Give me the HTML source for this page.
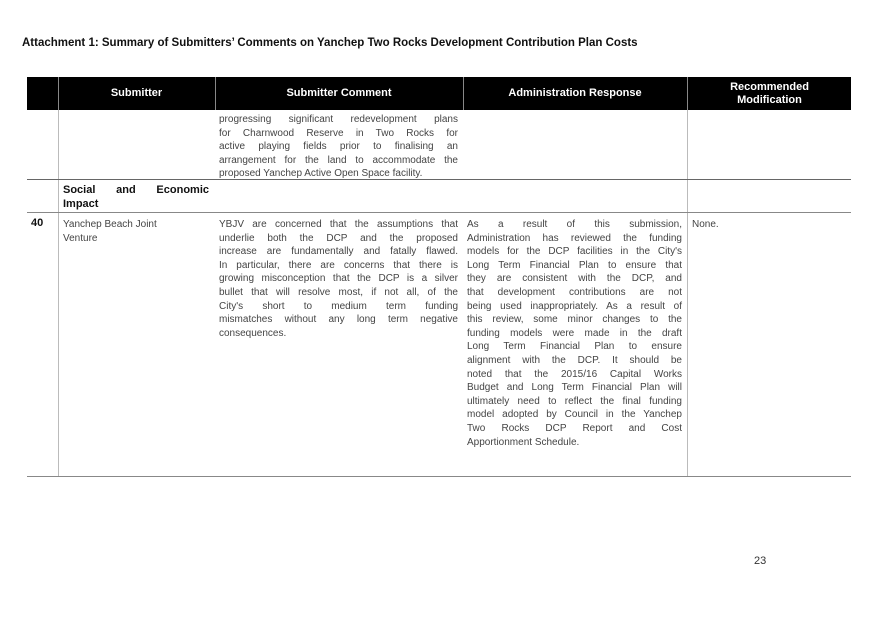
<!DOCTYPE html>
<html><head><meta charset="utf-8"><style>
*{margin:0;padding:0;box-sizing:border-box}
body{width:875px;height:619px;background:#fff;position:relative;font-family:"Liberation Sans",Arial,sans-serif;color:#222;overflow:hidden}
.a{position:absolute}
.t{position:absolute;font-size:10px;line-height:13.6px;color:#444}
.j div{text-align:justify;text-align-last:justify;white-space:nowrap;height:13.6px}
.j div.l{text-align-last:left}
.h{position:absolute;top:77px;height:33px;background:#000;color:#fff;font-weight:bold;font-size:11px;display:flex;align-items:center;justify-content:center;text-align:center;line-height:13px}
</style></head><body>
<div class="a" style="left:22px;top:37px;font-size:11.5px;font-weight:bold;color:#111;white-space:nowrap">Attachment 1: Summary of Submitters’ Comments on Yanchep Two Rocks Development Contribution Plan Costs</div>

<div class="a" style="left:27px;top:77px;width:824px;height:33px;background:#000"></div>
<div class="h" style="left:59px;width:155px">Submitter</div>
<div class="h" style="left:216px;width:246px">Submitter Comment</div>
<div class="h" style="left:464px;width:222px">Administration Response</div>
<div class="h" style="left:688px;width:163px">Recommended<br>Modification</div>
<div class="a" style="left:58px;top:77px;width:1px;height:33px;background:#888"></div>
<div class="a" style="left:215px;top:77px;width:1px;height:33px;background:#888"></div>
<div class="a" style="left:463px;top:77px;width:1px;height:33px;background:#888"></div>
<div class="a" style="left:687px;top:77px;width:1px;height:33px;background:#888"></div>

<div class="a" style="left:58px;top:110px;width:1px;height:366px;background:#bbb"></div>
<div class="a" style="left:687px;top:110px;width:1px;height:366px;background:#bbb"></div>
<div class="a" style="left:27px;top:179px;width:824px;height:1px;background:#666"></div>
<div class="a" style="left:27px;top:212px;width:824px;height:1px;background:#888"></div>
<div class="a" style="left:27px;top:476px;width:824px;height:1px;background:#888"></div>

<div class="t j" style="left:219px;top:113px;width:239px">
<div>progressing significant redevelopment plans</div>
<div>for Charnwood Reserve in Two Rocks for</div>
<div>active playing fields prior to finalising an</div>
<div>arrangement for the land to accommodate the</div>
<div class="l">proposed Yanchep Active Open Space facility.</div>
</div>

<div class="t j" style="left:63px;top:184px;width:146px;font-weight:bold;font-size:11px;color:#111">
<div>Social and Economic</div>
<div class="l">Impact</div>
</div>

<div class="a" style="left:31px;top:217px;font-size:11px;font-weight:bold;color:#111">40</div>
<div class="t" style="left:63px;top:218px;width:150px">Yanchep Beach Joint<br>Venture</div>

<div class="t j" style="left:219px;top:218px;width:239px">
<div>YBJV are concerned that the assumptions that</div>
<div>underlie both the DCP and the proposed</div>
<div>increase are fundamentally and fatally flawed.</div>
<div>In particular, there are concerns that there is</div>
<div>growing misconception that the DCP is a silver</div>
<div>bullet that will resolve most, if not all, of the</div>
<div>City's short to medium term funding</div>
<div>mismatches without any long term negative</div>
<div class="l">consequences.</div>
</div>

<div class="t j" style="left:467px;top:218px;width:215px">
<div>As a result of this submission,</div>
<div>Administration has reviewed the funding</div>
<div>models for the DCP facilities in the City's</div>
<div>Long Term Financial Plan to ensure that</div>
<div>they are consistent with the DCP, and</div>
<div>that development contributions are not</div>
<div>being used inappropriately. As a result of</div>
<div>this review, some minor changes to the</div>
<div>funding models were made in the draft</div>
<div>Long Term Financial Plan to ensure</div>
<div>alignment with the DCP. It should be</div>
<div>noted that the 2015/16 Capital Works</div>
<div>Budget and Long Term Financial Plan will</div>
<div>ultimately need to reflect the final funding</div>
<div>model adopted by Council in the Yanchep</div>
<div>Two Rocks DCP Report and Cost</div>
<div class="l">Apportionment Schedule.</div>
</div>

<div class="t" style="left:692px;top:218px">None.</div>

<div class="a" style="left:754px;top:555px;font-size:11px;color:#333">23</div>
</body></html>
